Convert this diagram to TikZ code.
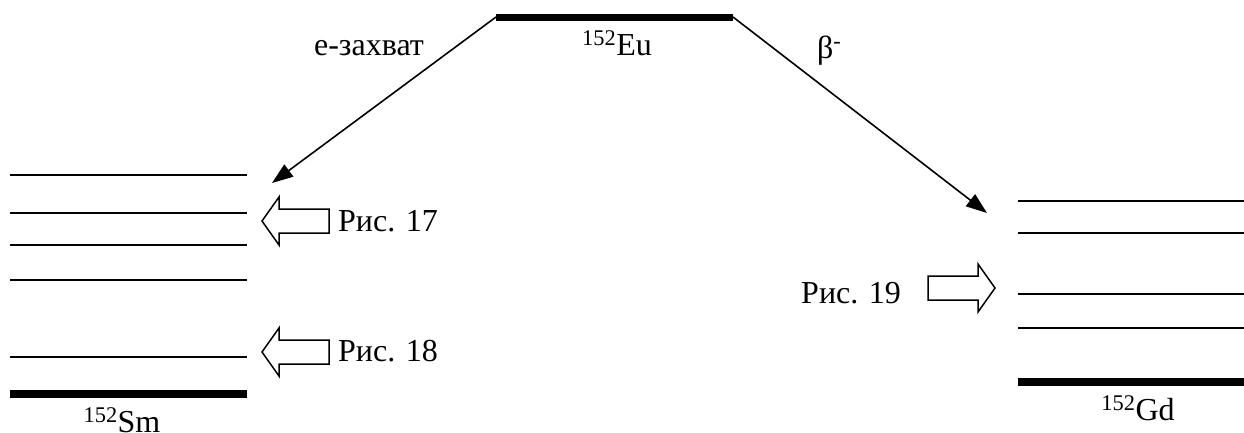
\documentclass[tikz,border=0pt]{standalone}
\usepackage{fontspec}
\setmainfont{Liberation Serif}
\usetikzlibrary{arrows.meta}
\newcommand\myRis{\symbol{"0420}\symbol{"0438}\symbol{"0441}}
\newcommand\myZahvat{\symbol{"0435}-\symbol{"0437}\symbol{"0430}\symbol{"0445}\symbol{"0432}\symbol{"0430}\symbol{"0442}}
\newcommand\myBeta{\symbol{"03B2}}
\tikzset{
  lbl/.style={inner sep=0pt, font=\fontsize{32}{38}\selectfont},
  lvl/.style={line width=2.2pt},
  ground/.style={line width=7.5pt},
  decay/.style={line width=1.6pt, -{Triangle[length=21pt,width=15pt]}},
  hollow/.style={draw, line width=1.5pt, fill=white, line join=miter},
  bigarr/.pic={\path[hollow] (0,0) -- (-17,-24) -- (-17,-12) -- (-67,-12) -- (-67,12) -- (-17,12) -- (-17,24) -- cycle;}
}
\begin{document}
\begin{tikzpicture}[x=1pt,y=-1pt]
\useasboundingbox (0,0) rectangle (1244,432);
% parent level
\coordinate (euL) at (496,17);
\coordinate (euR) at (733,17);
\draw[ground, line width=7pt] (euL) -- (euR);
\node[lbl, anchor=base] (eu) at (617,55) {\textsuperscript{152}Eu};
% Sm levels
\draw[lvl] (10,175) -- (247,175);
\draw[lvl] (10,213) -- (247,213);
\draw[lvl] (10,245) -- (247,245);
\draw[lvl] (10,280) -- (247,280);
\draw[lvl] (10,357) -- (247,357);
\draw[ground] (10,394) -- (247,394);
\node[lbl, anchor=base] (sm) at (122,432) {\textsuperscript{152}Sm};
% Gd levels
\draw[lvl] (1018,201) -- (1244,201);
\draw[lvl] (1018,233) -- (1244,233);
\draw[lvl] (1018,294) -- (1244,294);
\draw[lvl] (1018,328) -- (1244,328);
\draw[ground] (1018,382) -- (1244,382);
\node[lbl, anchor=base] (gd) at (1138,420) {\textsuperscript{152}Gd};
% decay arrows
\coordinate (smtip) at (272,183);
\coordinate (gdtip) at (987,213);
\draw[decay] (euL) -- (smtip);
\draw[decay] (euR) -- (gdtip);
\node[lbl, anchor=base] (ec) at (369,55) {\myZahvat};
\node[lbl, anchor=base west] (beta) at (817,58) {\myBeta\textsuperscript{-}};
% figure references
\pic[xscale=-1] at (262,221) {bigarr};
\node[lbl, anchor=base west] (r17) at (338,231) {\myRis. 17};
\pic[xscale=-1] at (262,352) {bigarr};
\node[lbl, anchor=base west] (r18) at (338,361) {\myRis. 18};
\pic at (995,288) {bigarr};
\node[lbl, anchor=base west] (r19) at (801,303) {\myRis. 19};
\end{tikzpicture}
\end{document}
